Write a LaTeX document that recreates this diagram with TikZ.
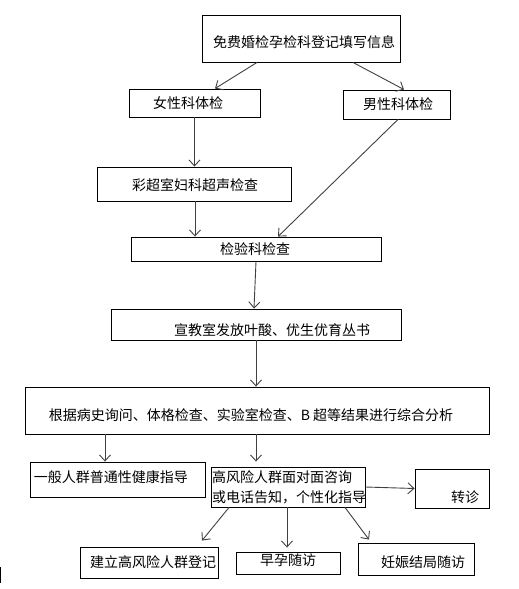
\documentclass[tikz,border=0pt]{standalone}
\usepackage{fontspec}
\setmainfont{Noto Sans CJK SC}
\usetikzlibrary{arrows.meta}
\tikzset{
  box/.style={draw=black, line width=0.9pt, inner sep=0pt, font=\fontsize{14pt}{20pt}\selectfont},
  txt/.style={inner sep=0pt, font=\fontsize{14pt}{20pt}\selectfont},
  arr/.style={draw=black!75, line width=0.9pt, -{Straight Barb[length=6pt,width=11pt,line width=0.9pt]}}
}
\begin{document}
\begin{tikzpicture}[x=1pt,y=-1pt]
\useasboundingbox (0,0) rectangle (519,589);
% boxes
\node[box, minimum width=198pt, minimum height=47pt] (reg) at (301,38.5) {};
\node[txt] (reg-t) at (304,42) {免费婚检孕检科登记填写信息};
\node[box, minimum width=131pt, minimum height=28pt] (nv) at (194.5,103) {};
\node[txt] (nv-t) at (188,103) {女性科体检};
\node[box, minimum width=107pt, minimum height=29pt] (nan) at (396.5,104.5) {};
\node[txt] (nan-t) at (398,104) {男性科体检};
\node[box, minimum width=194pt, minimum height=34pt] (cc) at (194,184) {};
\node[txt] (cc-t) at (195,185) {彩超室妇科超声检查};
\node[box, minimum width=250pt, minimum height=24pt] (jy) at (256,249) {};
\node[txt] (jy-t) at (255,249) {检验科检查};
\node[box, minimum width=290pt, minimum height=31pt] (xj) at (256,324.5) {};
\node[txt] (xj-t) at (272,330) {宣教室发放叶酸、优生优育丛书};
\node[box, minimum width=464pt, minimum height=47pt] (gj) at (257,410.5) {};
\node[txt] (gj-t) at (251,415) {根据病史询问、体格检查、实验室检查、B 超等结果进行综合分析};
\node[box, minimum width=175pt, minimum height=35pt] (yb) at (117.5,479.5) {};
\node[txt] (yb-t) at (111,477) {一般人群普通性健康指导};
\node[box, minimum width=154pt, minimum height=40pt] (gf) at (288,487) {};
\node[txt, align=left] (gf-t) at (289,487) {高风险人群面对面咨询\\或电话告知，个性化指导};
\node[box, minimum width=74pt, minimum height=39pt] (zz) at (452,488.5) {};
\node[txt] (zz-t) at (465,497) {转诊};
\node[box, minimum width=138pt, minimum height=31pt] (jl) at (149,562.5) {};
\node[txt] (jl-t) at (153,562) {建立高风险人群登记};
\node[box, minimum width=104pt, minimum height=22pt] (zy) at (288,563) {};
\node[txt] (zy-t) at (288,560) {早孕随访};
\node[box, minimum width=116pt, minimum height=32pt] (rs) at (416,559) {};
\node[txt] (rs-t) at (423,562) {妊娠结局随访};
% arrows
\draw[arr] ([xshift=-44pt]reg.south) -- ([xshift=20.5pt]nv.north);
\draw[arr] ([xshift=52pt]reg.south) -- ([xshift=7.5pt]nan.north);
\draw[arr] (nv.south) -- (nv.south |- cc.north);
\draw[arr] ([xshift=1.5pt]nan.south) -- ([xshift=22pt]jy.north);
\draw[arr] ([xshift=1pt]cc.south) -- ([xshift=1pt]cc.south |- jy.north);
\draw[arr] (jy.south) -- ([xshift=-2pt]xj.north);
\draw[arr] (xj.south) -- (xj.south |- gj.north);
\draw[arr] ([xshift=-12.5pt]yb.north |- gj.south) -- ([xshift=-12.5pt]yb.north);
\draw[arr] ([xshift=-1pt]gj.south) -- ([xshift=-1pt]gj.south |- yb.north);
\draw[arr] (gf.east) -- (zz.west);
\draw[arr] ([xshift=-59pt]gf.south) -- ([xshift=53pt,yshift=6pt]jl.north);
\draw[arr] ([xshift=-1pt]gf.south) -- ([xshift=-1pt,yshift=4pt]zy.north);
\draw[arr] ([xshift=57pt]gf.south) -- ([xshift=-47pt,yshift=3pt]rs.north);
% stray mark at left edge
\draw[line width=1.2pt] (0.6,567) -- (0.6,583);
\end{tikzpicture}
\end{document}
